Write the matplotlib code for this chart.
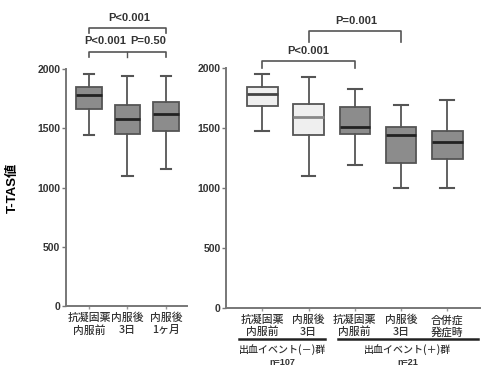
import matplotlib
matplotlib.use("Agg")
import matplotlib.pyplot as plt
from matplotlib.transforms import blended_transform_factory

plt.rcParams['font.family'] = ['Liberation Sans', 'Noto Sans CJK JP', 'DejaVu Sans']

# left panel: all patients
left_labels = ["抗凝固薬\n内服前", "内服後\n3日", "内服後\n1ヶ月"]
left_whislo = [1440, 1100, 1160]
left_q1 = [1660, 1450, 1480]
left_med = [1780, 1580, 1620]
left_q3 = [1850, 1700, 1720]
left_whishi = [1960, 1940, 1940]

# right panel: bleeding event (-) / (+)
right_labels = ["抗凝固薬\n内服前", "内服後\n3日", "抗凝固薬\n内服前", "内服後\n3日", "合併症\n発症時"]
right_whislo = [1470, 1100, 1190, 1000, 1000]
right_q1 = [1680, 1440, 1450, 1210, 1240]
right_med = [1780, 1590, 1510, 1440, 1380]
right_q3 = [1840, 1700, 1670, 1510, 1470]
right_whishi = [1950, 1920, 1820, 1690, 1730]
right_light = [True, True, False, False, False]

yticks = [0, 500, 1000, 1500, 2000]

DARK = "#8c8c8c"
LIGHT = "#efefef"
EDGE = "#555555"
CJK = ['Noto Sans CJK JP', 'DejaVu Sans']


def stats(lo, q1, med, q3, hi):
    return [dict(whislo=a, q1=b, med=c, q3=d, whishi=e, fliers=[])
            for a, b, c, d, e in zip(lo, q1, med, q3, hi)]


def style_axis(ax):
    for s in ["top", "right"]:
        ax.spines[s].set_visible(False)
    for s in ["left", "bottom"]:
        ax.spines[s].set_color("#777777")
        ax.spines[s].set_linewidth(1.4)
    ax.set_ylim(0, 2000)
    ax.set_yticks(yticks)
    ax.set_yticklabels([str(v) for v in yticks], fontsize=7.5, fontweight="bold", color="#333333")
    ax.tick_params(axis="y", length=3, width=1, color="#777777", pad=1)
    ax.tick_params(axis="x", length=2, width=1, color="#999999", pad=3)


def draw_boxes(ax, st, fills, medcolors, capw):
    pos = list(range(1, len(st) + 1))
    res = ax.bxp(st, positions=pos, widths=0.66, showfliers=False, patch_artist=True,
                 capwidths=capw,
                 boxprops=dict(edgecolor=EDGE, linewidth=1.3),
                 whiskerprops=dict(color=EDGE, linewidth=1.3),
                 capprops=dict(color=EDGE, linewidth=1.5),
                 medianprops=dict(linewidth=2))
    for b, f in zip(res["boxes"], fills):
        b.set_facecolor(f)
    for m, c in zip(res["medians"], medcolors):
        m.set_color(c)


def bracket(ax, x1, x2, y, d1, d2):
    ax.plot([x1, x1, x2, x2], [y - d1, y, y, y - d2], color=EDGE, lw=1.2, clip_on=False)


fig = plt.figure(figsize=(4.96, 3.75), dpi=100)

# left panel
ax1 = fig.add_axes([0.133, 0.184, 0.244, 0.632])
draw_boxes(ax1, stats(left_whislo, left_q1, left_med, left_q3, left_whishi),
           [DARK] * 3, ["#222222"] * 3, 0.27)
ax1.set_xlim(0.40, 3.55)
style_axis(ax1)
ax1.set_xticks([1, 2, 3])
ax1.set_xticklabels(left_labels, fontsize=7.8, family=CJK, fontweight="medium",
                    color="#333333", linespacing=1.2)
ax1.set_ylabel("T-TAS値", fontsize=9.5, fontweight="bold",
               family=['Liberation Sans', 'Noto Sans CJK JP'], labelpad=9)
ax1.yaxis.set_label_coords(-0.39, 0.5)

bracket(ax1, 1, 3, 2346, 45, 45)
ax1.text(2.05, 2390, "P<0.001", ha="center", va="bottom", fontsize=8, fontweight="bold", color="#333333")
bracket(ax1, 1, 3, 2143, 45, 45)
ax1.plot([2, 2], [2143, 2105], color=EDGE, lw=1, clip_on=False)
ax1.text(1.42, 2190, "P<0.001", ha="center", va="bottom", fontsize=8, fontweight="bold", color="#333333")
ax1.text(2.53, 2190, "P=0.50", ha="center", va="bottom", fontsize=8, fontweight="bold", color="#333333")

# right panel
ax2 = fig.add_axes([0.456, 0.179, 0.512, 0.64])
fills = [LIGHT if l else DARK for l in right_light]
meds = ["#444444", "#888888", "#222222", "#222222", "#222222"]
draw_boxes(ax2, stats(right_whislo, right_q1, right_med, right_q3, right_whishi),
           fills, meds, 0.3)
ax2.set_xlim(0.22, 5.71)
style_axis(ax2)
ax2.set_xticks([1, 2, 3, 4, 5])
ax2.set_xticklabels(right_labels, fontsize=7.8, family=CJK, fontweight="medium",
                    color="#333333", linespacing=1.2)

bracket(ax2, 1, 3, 2058, 55, 55)
ax2.text(2.0, 2100, "P<0.001", ha="center", va="bottom", fontsize=8, fontweight="bold", color="#333333")
bracket(ax2, 2, 4, 2308, 92, 92)
ax2.text(3.03, 2345, "P=0.001", ha="center", va="bottom", fontsize=8, fontweight="bold", color="#333333")

tr = blended_transform_factory(ax2.transData, ax2.transAxes)
ax2.plot([0.50, 2.36], [-0.129, -0.129], transform=tr, color="#222222", lw=1.8, clip_on=False)
ax2.plot([2.64, 5.67], [-0.129, -0.129], transform=tr, color="#222222", lw=1.8, clip_on=False)
ax2.text(1.43, -0.172, "出血イベント(－)群", transform=tr, ha="center", va="center",
         fontsize=7.2, family=CJK, fontweight="medium", color="#333333")
ax2.text(1.43, -0.226, "n=107", transform=tr, ha="center", va="center",
         fontsize=6.5, fontweight="bold", color="#333333")
ax2.text(4.15, -0.172, "出血イベント(＋)群", transform=tr, ha="center", va="center",
         fontsize=7.2, family=CJK, fontweight="medium", color="#333333")
ax2.text(4.15, -0.226, "n=21", transform=tr, ha="center", va="center",
         fontsize=6.5, fontweight="bold", color="#333333")

fig.savefig("out.png", dpi=100)
